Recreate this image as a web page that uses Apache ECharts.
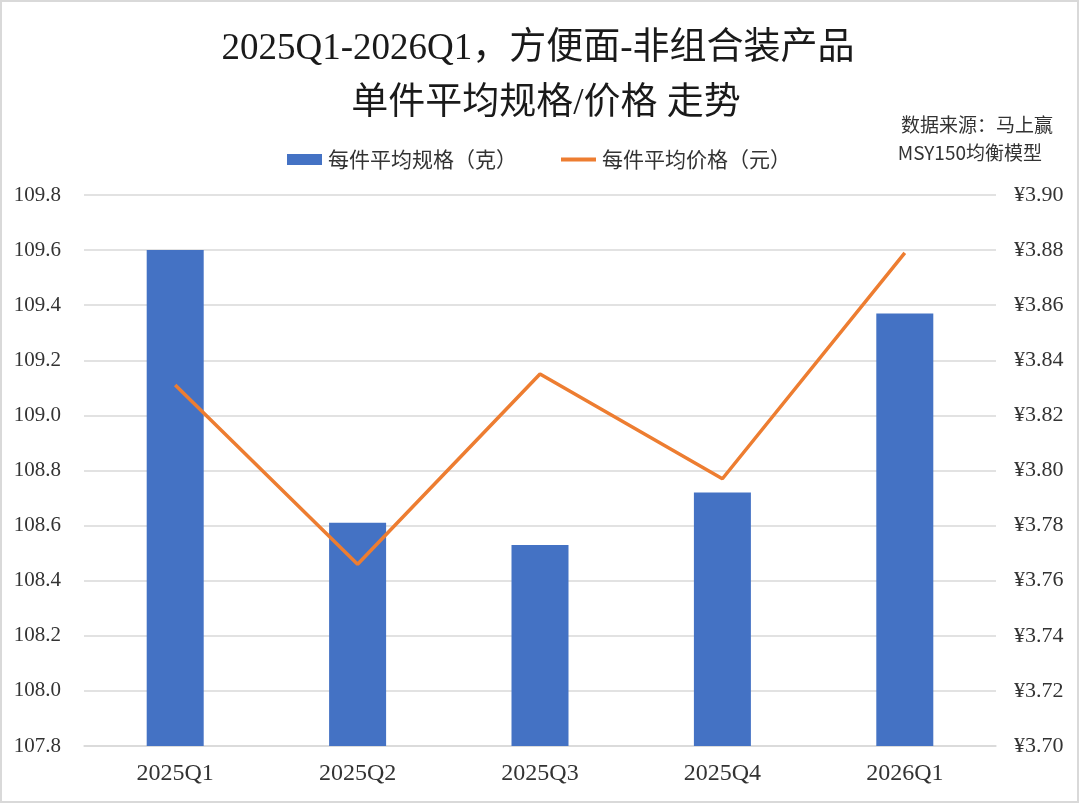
<!DOCTYPE html>
<html>
<head>
<meta charset="UTF-8">
<title>方便面-非组合装产品 单件平均规格/价格走势</title>
<script src="https://cdn.jsdelivr.net/npm/echarts@6/dist/echarts.min.js"></script>
<style>
  html, body { margin: 0; padding: 0; background: #fff; }
  #chart { width: 1080px; height: 804px; }
</style>
</head>
<body>
<div id="chart"></div>
<script>
// 季度
var quarters = ['2025Q1', '2025Q2', '2025Q3', '2025Q4', '2026Q1'];
// 每件平均规格（克）
var avgSize = [109.60, 108.61, 108.53, 108.72, 109.37];
// 每件平均价格（元）
var avgPrice = [3.831, 3.766, 3.835, 3.797, 3.879];
// 刻度 [min, max, interval]
var sizeTicks = [107.8, 109.8, 0.2];
var priceTicks = [3.70, 3.90, 0.02];

var serif = '"Liberation Serif", "Noto Sans CJK SC", serif';
var cjk = '"Noto Sans CJK SC", sans-serif';

var myChart = echarts.init(document.getElementById('chart'));

var option = {
    backgroundColor: '#fff',
    animation: false,
    graphic: [
        {
            type: 'rect',
            shape: { x: 1, y: 1, width: 1077, height: 801 },
            style: { fill: 'none', stroke: '#d9d9d9', lineWidth: 2 },
            silent: true
        },
        {
            type: 'text',
            right: 27,
            top: 115,
            style: { text: '数据来源：马上赢', font: '19px ' + cjk, fill: '#333', textAlign: 'right' }
        },
        {
            type: 'text',
            right: 38,
            top: 143,
            style: { text: 'MSY150均衡模型', font: '19px ' + cjk, fill: '#333', textAlign: 'right' }
        }
    ],
    title: [
        {
            text: '2025Q1-2026Q1，方便面-非组合装产品',
            left: 533, top: 26, textAlign: 'center',
            textStyle: { fontFamily: serif, fontSize: 37, fontWeight: 'normal', color: '#1a1a1a' }
        },
        {
            text: '单件平均规格/价格 走势',
            left: 541, top: 81, textAlign: 'center',
            textStyle: { fontFamily: serif, fontSize: 37, fontWeight: 'normal', color: '#1a1a1a' }
        }
    ],
    legend: {
        left: 282,
        top: 144,
        itemGap: 44,
        itemWidth: 35,
        itemHeight: 11,
        textStyle: { fontFamily: cjk, fontSize: 21, color: '#333', padding: [0, 0, 0, 1] },
        data: [
            { name: '每件平均规格（克）', icon: 'rect' },
            { name: '每件平均价格（元）', icon: 'path://M0,0 H35 V4 H0 Z' }
        ]
    },
    grid: { left: 84, right: 84, top: 195, bottom: 58 },
    xAxis: {
        type: 'category',
        data: quarters,
        axisTick: { show: false },
        axisLine: { lineStyle: { color: '#d9d9d9', width: 1.5 } },
        axisLabel: { fontFamily: serif, fontSize: 24, color: '#333', margin: 16 }
    },
    yAxis: [
        {
            type: 'value',
            min: sizeTicks[0], max: sizeTicks[1], interval: sizeTicks[2],
            axisLine: { show: false },
            axisTick: { show: false },
            splitLine: { lineStyle: { color: '#d9d9d9', width: 1.5 } },
            axisLabel: {
                fontFamily: serif, fontSize: 21, color: '#333', margin: 23,
                formatter: function (v) { return v.toFixed(1); }
            }
        },
        {
            type: 'value',
            min: priceTicks[0], max: priceTicks[1], interval: priceTicks[2],
            axisLine: { show: false },
            axisTick: { show: false },
            splitLine: { show: false },
            axisLabel: {
                fontFamily: serif, fontSize: 22, color: '#333', margin: 18,
                formatter: function (v) { return '¥' + v.toFixed(2); }
            }
        }
    ],
    series: [
        {
            name: '每件平均规格（克）',
            type: 'bar',
            yAxisIndex: 0,
            barWidth: 57,
            itemStyle: { color: '#4472C4' },
            data: avgSize
        },
        {
            name: '每件平均价格（元）',
            type: 'line',
            yAxisIndex: 1,
            symbol: 'none',
            lineStyle: { color: '#ED7D31', width: 3.5 },
            itemStyle: { color: '#ED7D31' },
            data: avgPrice
        }
    ]
};

myChart.setOption(option);
</script>
</body>
</html>
